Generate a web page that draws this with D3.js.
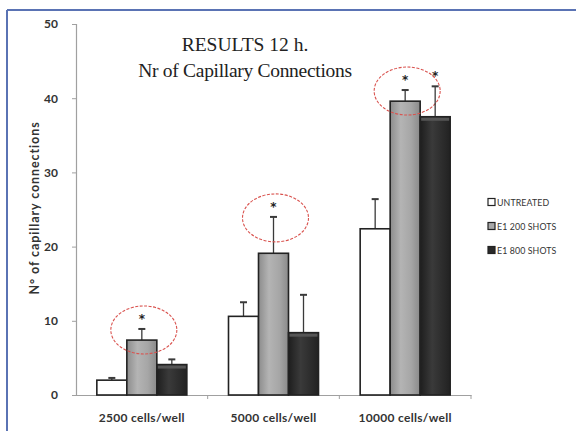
<!DOCTYPE html>
<html><head><meta charset="utf-8">
<script src="https://cdn.jsdelivr.net/npm/d3@7"></script>
<style>body{margin:0;background:#fff;}svg{display:block;}</style>
</head><body>
<svg id="chart" width="576" height="431"></svg>
<script>
const categories = ["2500 cells/well", "5000 cells/well", "10000 cells/well"];
const seriesNames = ["UNTREATED", "E1 200 SHOTS", "E1 800 SHOTS"];
const untreated = [2.0, 10.6, 22.4];
const untreatedErr = [0.3, 1.9, 4.0];
const e1200 = [7.4, 19.1, 39.6];
const e1200Err = [1.5, 4.9, 1.5];
const e1800 = [4.1, 8.4, 37.5];
const e1800Err = [0.7, 5.1, 4.1];
const e1200Sig = [true, true, true];
const e1800Sig = [false, false, true];
const yTicks = [0, 10, 20, 30, 40, 50];

const seriesValues = [untreated, e1200, e1800];
const seriesErrors = [untreatedErr, e1200Err, e1800Err];
const seriesSig = [[false,false,false], e1200Sig, e1800Sig];

const svg = d3.select("#chart");
const defs = svg.append("defs");
function grad(id, stops){
  const g = defs.append("linearGradient").attr("id", id).attr("x1","0").attr("x2","1").attr("y1","0").attr("y2","0");
  stops.forEach(s => g.append("stop").attr("offset", s[0]).attr("stop-color", s[1]));
}
grad("g0", [[0,"#ffffff"],[1,"#ffffff"]]);
grad("g1", [[0,"#8c8c8c"],[0.35,"#b4b4b4"],[0.7,"#a6a6a6"],[1,"#8a8a8a"]]);
grad("g2", [[0,"#1e1e1e"],[0.4,"#3a3a3a"],[1,"#222222"]]);
const fills = ["url(#g0)", "url(#g1)", "url(#g2)"];
const legendFills = ["#ffffff", "#a8a8a8", "#2a2a2a"];
const sans = "Lato, 'Open Sans', sans-serif";

// frame
svg.append("line").attr("x1",7).attr("x2",576).attr("y1",10).attr("y2",10).attr("stroke","#5a73b4").attr("stroke-width",2);
svg.append("line").attr("x1",7).attr("x2",7).attr("y1",10).attr("y2",431).attr("stroke","#5a73b4").attr("stroke-width",2);

const x = d3.scaleBand().domain(categories).range([76, 471]).paddingInner(0).paddingOuter(0);
const y = d3.scaleLinear().domain([0, 50]).range([395, 24]);
const barW = 30;
const xs = d3.scaleBand().domain(seriesNames).range([0, barW*3]).padding(0);
const groupOff = (x.bandwidth() - barW*3) / 2;

// y axis
const yAxis = svg.append("g").attr("transform","translate(76,0)")
  .call(d3.axisLeft(y).tickValues(yTicks).tickSize(4).tickPadding(14));
yAxis.select(".domain").attr("stroke","#a0a0a0").attr("stroke-width",1.2);
yAxis.selectAll(".tick line").attr("stroke","#a0a0a0");
yAxis.selectAll("text").attr("font-family",sans).attr("font-weight","bold").attr("font-size",12).attr("fill","#333");

// x axis
const xAxis = svg.append("g").attr("transform","translate(0,395)")
  .call(d3.axisBottom(x).tickSize(0).tickPadding(18));
xAxis.select(".domain").attr("stroke","#a0a0a0").attr("stroke-width",1.2);
xAxis.selectAll("text").attr("font-family",sans).attr("font-weight","bold").attr("font-size",12).attr("letter-spacing",0.3).attr("fill","#333");
// boundary ticks
svg.append("g").selectAll("line").data(categories).join("line")
  .attr("x1", d => x(d) + x.bandwidth()).attr("x2", d => x(d) + x.bandwidth())
  .attr("y1",395).attr("y2",399).attr("stroke","#a0a0a0");

// bars
const plot = svg.append("g");
seriesNames.forEach((s, si) => {
  categories.forEach((c, ci) => {
    const v = seriesValues[si][ci], e = seriesErrors[si][ci];
    const bx = x(c) + groupOff + xs(s);
    const cx = bx + barW/2;
    plot.append("line").attr("x1",cx).attr("x2",cx).attr("y1",y(v)).attr("y2",y(v+e)).attr("stroke","#3a3a3a").attr("stroke-width",1.3);
    plot.append("line").attr("x1",cx-3.5).attr("x2",cx+3.5).attr("y1",y(v+e)).attr("y2",y(v+e)).attr("stroke","#3a3a3a").attr("stroke-width",2);
    plot.append("rect").attr("x",bx).attr("y",y(v)).attr("width",barW).attr("height",y(0)-y(v))
      .attr("fill",fills[si]).attr("stroke","#222").attr("stroke-width",1.6);
    if (si === 2) {
      plot.append("rect").attr("x",bx+1).attr("y",y(v)+1).attr("width",barW-2).attr("height",3).attr("fill","#555");
    }
    if (seriesSig[si][ci]) {
      plot.append("text").attr("x",cx).attr("y",y(v+e)-6).attr("text-anchor","middle")
        .attr("font-family","'DejaVu Sans', sans-serif").attr("font-weight","bold").attr("font-size",12).attr("fill","#222").text("*");
    }
    if (si === 1) {
      plot.append("ellipse").attr("cx",cx+2).attr("cy",y(v+e)+1).attr("rx",33).attr("ry",24)
        .attr("fill","none").attr("stroke","#d9534f").attr("stroke-width",1.1).attr("stroke-dasharray","3,1.5");
    }
  });
});

// y label
svg.append("text").attr("transform","translate(39,208) rotate(-90)").attr("text-anchor","middle")
  .attr("font-family",sans).attr("font-weight","bold").attr("font-size",12.5).attr("letter-spacing",0.9).attr("fill","#333")
  .text("N° of capillary connections");

// title
svg.append("text").attr("x",245).attr("y",51).attr("text-anchor","middle")
  .attr("font-family","'Liberation Serif', serif").attr("font-size",19.5).attr("fill","#222").text("RESULTS 12 h.");
svg.append("text").attr("x",245).attr("y",77).attr("text-anchor","middle")
  .attr("font-family","'Liberation Serif', serif").attr("font-size",19.5).attr("fill","#222").attr("letter-spacing",-0.3).text("Nr of Capillary Connections");

// legend
const lg = svg.append("g");
seriesNames.forEach((s, i) => {
  const ly = 202 + i*24;
  lg.append("rect").attr("x",488).attr("y",ly-3.5).attr("width",7).attr("height",7)
    .attr("fill",legendFills[i]).attr("stroke","#222").attr("stroke-width",1.2);
  lg.append("text").attr("x",497).attr("y",ly+3.5).attr("font-family",sans)
    .attr("font-size",8.8).attr("letter-spacing",0.1).attr("fill","#333").text(s);
});
</script>
</body></html>
